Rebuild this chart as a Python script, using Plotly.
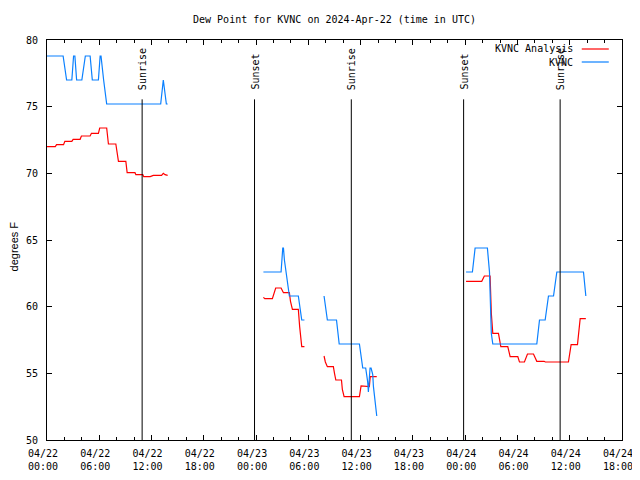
import pandas as pd
import plotly.graph_objects as go

# ---- data (hours after 2024-04-22 00:00 UTC, dew point in F); None = gap ----
base_time = "2024-04-22 00:00"

obs_hours = [0.0, 1.85, 2.25, 2.85, 3.05, 3.2, 3.4, 4.0, 4.4, 4.95, 5.2, 5.9, 6.1, 6.2, 6.5, 6.85, 13.05, 13.35, 13.7, 13.85,
             None,
             24.84, 26.87, 27.06, 27.14, 27.25, 27.45, 27.6, 27.82, 28.85, 29.24, 29.55,
             None,
             31.8, 32.18, 33.23, 33.54, 35.86, 36.24, 36.58, 36.7, 36.8, 36.89, 37.08, 37.2, 37.39, 37.47, 37.65, 37.85,
             None,
             48.1, 48.83, 49.14, 50.55, 50.79, 50.87, 50.92, 51.0, 51.17, 56.22, 56.53, 57.18, 57.56, 58.14, 58.52, 61.58, 61.85]
obs_values = [78.8, 78.8, 77.0, 77.0, 78.8, 78.8, 77.0, 77.0, 78.8, 78.8, 77.0, 77.0, 78.8, 78.8, 77.0, 75.2, 75.2, 77.0, 75.2, 75.2,
              None,
              62.6, 62.6, 64.4, 64.4, 63.5, 62.6, 61.7, 60.8, 60.8, 59.0, 59.0,
              None,
              60.8, 59.0, 59.0, 57.2, 57.2, 55.4, 55.4, 55.0, 54.4, 53.6, 55.4, 55.4, 54.9, 54.0, 52.8, 51.8,
              None,
              62.6, 62.6, 64.4, 64.4, 62.6, 59.8, 61.0, 58.0, 57.2, 57.2, 59.0, 59.0, 60.8, 60.8, 62.6, 62.6, 60.8]

ana_hours = [0.0, 0.95, 1.1, 1.9, 2.05, 2.85, 3.0, 3.8, 3.95, 4.95, 5.1, 5.9, 6.05, 6.85, 7.05, 7.9, 8.2, 9.05, 9.2, 10.1,
             10.2, 11.0, 11.1, 11.85, 12.2, 13.15, 13.35, 13.55, 13.85,
             None,
             24.84, 25.0, 25.87, 26.25, 26.87, 27.14, 27.82, 27.95, 28.17, 28.85, 29.0, 29.24, 29.55,
             None,
             31.8, 31.95, 32.18, 32.87, 33.0, 33.15, 33.8, 33.9, 34.1, 35.86, 36.05, 36.82, 37.0, 37.1, 37.85,
             None,
             48.1, 49.9, 50.2, 50.86, 51.0, 51.17, 51.82, 52.09, 52.89, 53.16, 54.04, 54.23, 54.8, 55.15, 55.84,
             56.22, 57.06, 57.2, 59.85, 60.16, 60.89, 61.2, 61.85]
ana_values = [72.0, 72.0, 72.15, 72.15, 72.4, 72.4, 72.55, 72.55, 72.8, 72.8, 73.0, 73.0, 73.4, 73.4, 72.2, 72.2, 70.9, 70.9, 70.05, 70.05,
              69.9, 69.9, 69.75, 69.75, 69.85, 69.85, 70.0, 69.9, 69.85,
              None,
              60.7, 60.6, 60.6, 61.4, 61.4, 61.05, 61.05, 60.4, 59.8, 59.8, 58.5, 57.0, 57.0,
              None,
              56.3, 55.85, 55.5, 55.5, 55.0, 54.5, 54.5, 53.8, 53.25, 53.25, 54.05, 54.05, 54.0, 54.75, 54.75,
              None,
              61.9, 61.9, 62.3, 62.3, 59.5, 58.0, 58.0, 57.0, 57.0, 56.25, 56.25, 55.85, 55.85, 56.45, 56.45,
              55.9, 55.9, 55.85, 55.85, 57.15, 57.15, 59.1, 59.1]

sun_hours = [10.92, 23.82, 34.93, 47.82, 58.9]
sun_labels = ["Sunrise", "Sunset", "Sunrise", "Sunset", "Sunrise"]

series_names = ["KVNC Analysis", "KVNC"]
series_colors = ["#ff0000", "#0a80ff"]

y_min, y_max = 50, 80
x_start, x_end = "2024-04-22 00:00", "2024-04-24 18:00"
sun_line_top = 75.55

t0 = pd.Timestamp(base_time)


def to_times(hours):
    return [None if h is None else t0 + pd.Timedelta(hours=h) for h in hours]


FONT = "DejaVu Sans Mono"
FIG_W, FIG_H = 640, 464  # page body has an 8px margin

fig = go.Figure()
fig.add_trace(go.Scatter(x=to_times(ana_hours), y=ana_values, mode="lines",
                         line=dict(color=series_colors[0], width=1.2), name=series_names[0],
                         connectgaps=False, showlegend=False))
fig.add_trace(go.Scatter(x=to_times(obs_hours), y=obs_values, mode="lines",
                         line=dict(color=series_colors[1], width=1.2), name=series_names[1],
                         connectgaps=False, showlegend=False))

for h, lab in zip(sun_hours, sun_labels):
    t = t0 + pd.Timedelta(hours=h)
    fig.add_shape(type="line", xref="x", yref="y", x0=t, x1=t, y0=y_min, y1=sun_line_top,
                  line=dict(color="black", width=1))
    fig.add_annotation(x=t, xref="x", y=0.87, yref="paper", text=lab, textangle=-90,
                       showarrow=False, xanchor="center", yanchor="bottom",
                       font=dict(family=FONT, size=10, color="black"))

# manual gnuplot-style legend (text then line sample)
legend_y = [0.9775, 0.945]
for name, col, ly in zip(series_names, series_colors, legend_y):
    fig.add_annotation(x=0.919, xref="paper", y=ly, yref="paper", text=name, showarrow=False,
                       xanchor="right", yanchor="middle",
                       font=dict(family=FONT, size=10, color="black"))
    fig.add_shape(type="line", xref="paper", yref="paper", x0=0.93, x1=0.977, y0=ly, y1=ly,
                  line=dict(color=col, width=1.2))

fig.add_annotation(x=-0.058, xref="paper", y=0.483, yref="paper", text="degrees F", textangle=-90,
                   showarrow=False, xanchor="center", yanchor="middle",
                   font=dict(family="Liberation Sans", size=11, color="black"))

fig.update_layout(
    width=FIG_W, height=FIG_H,
    margin=dict(l=39, r=26, t=32, b=32, autoexpand=False),
    paper_bgcolor="white", plot_bgcolor="white",
    title=dict(text="Dew Point for KVNC on 2024-Apr-22 (time in UTC)", x=0.5, xref="paper",
               y=1 - 11 / FIG_H, yanchor="middle",
               font=dict(family=FONT, size=10, color="black")),
    font=dict(family=FONT, size=10, color="black"),
    showlegend=False,
)
fig.update_xaxes(
    range=[x_start, x_end], type="date", automargin=False,
    dtick=6 * 3600 * 1000, tick0="2024-04-22 00:00", tickformat="%m/%d<br>%H:%M",
    ticks="inside", ticklen=5, tickcolor="black", tickwidth=1,
    minor=dict(dtick=2 * 3600 * 1000, ticks="inside", ticklen=3, tickcolor="black"),
    showline=True, linecolor="black", linewidth=1, mirror="ticks",
    showgrid=False, zeroline=False, ticklabelstandoff=4, ticklabelshift=-4,
    tickfont=dict(family=FONT, size=10, color="black"),
)
fig.update_yaxes(
    range=[y_min, y_max], dtick=5, tick0=50, automargin=False,
    ticks="inside", ticklen=5, tickcolor="black", tickwidth=1,
    showline=True, linecolor="black", linewidth=1, mirror="ticks",
    showgrid=False, zeroline=False, ticklabelstandoff=6,
    tickfont=dict(family=FONT, size=10, color="black"),
)

fig.write_html("out.html")
